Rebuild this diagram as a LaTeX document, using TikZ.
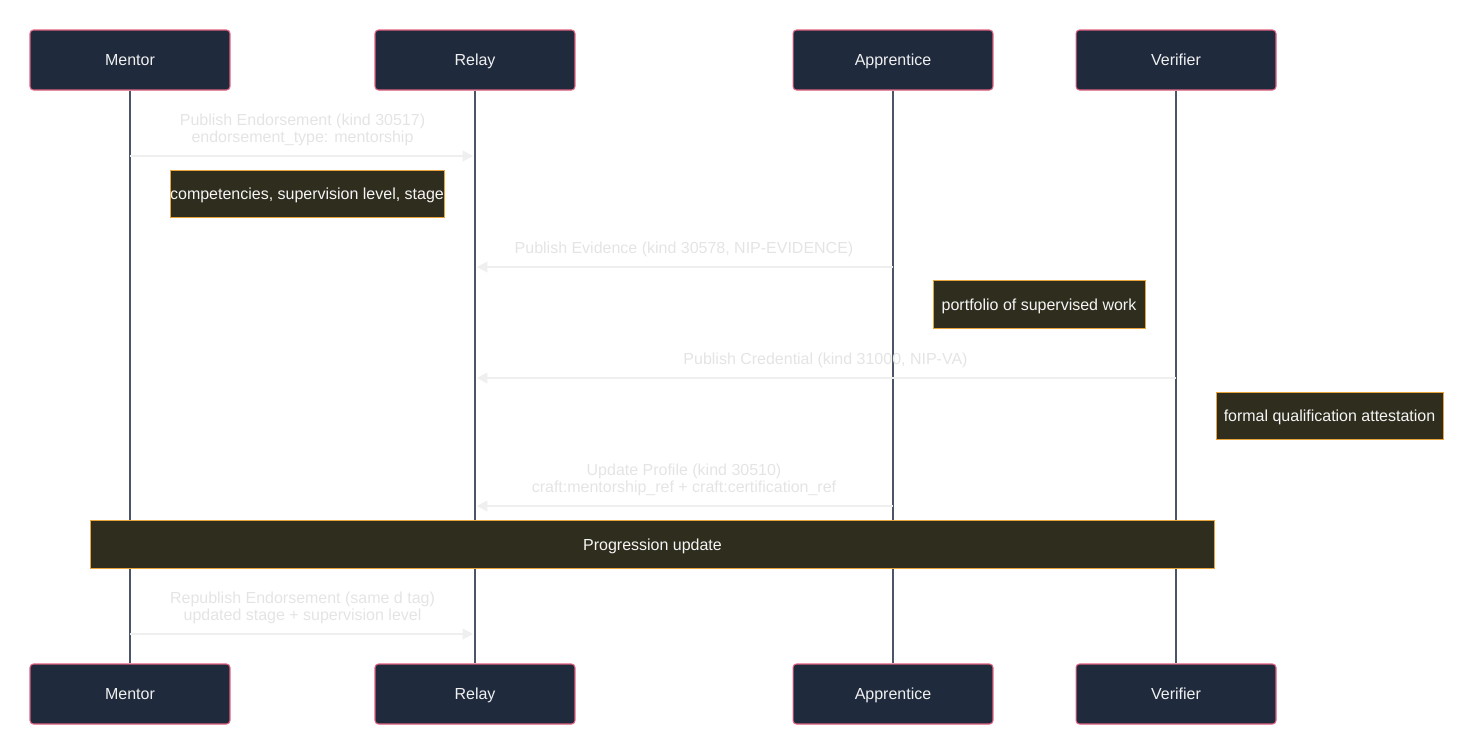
\documentclass[tikz,border=0pt]{standalone}
\usepackage{fontspec}
\setmainfont{Liberation Sans}
\usetikzlibrary{arrows.meta, positioning}

\definecolor{actorfill}{HTML}{1F2A3C}
\definecolor{actorline}{HTML}{E2607F}
\definecolor{notefill}{HTML}{2E2D1E}
\definecolor{noteline}{HTML}{E8A33B}
\definecolor{lifecol}{HTML}{4A5568}
\definecolor{msgline}{HTML}{EFEFEF}
\definecolor{msgtext}{HTML}{E4E4E4}

\tikzset{
	actor/.style={draw=actorline, fill=actorfill, rounded corners=2pt, line width=0.6pt,
		minimum width=4cm, minimum height=1.2cm, text=white!94!black,
		text height=6.6pt, text depth=0pt, font=\fontsize{9.1}{11}\selectfont},
	note/.style={draw=noteline, fill=notefill, line width=0.5pt, inner sep=0pt,
		minimum height=0.95cm, text=white!96!black, text height=6.6pt, text depth=0pt,
		font=\fontsize{9.1}{11}\selectfont},
	msg/.style={draw=msgline, line width=1.1pt, shorten >=1pt,
		-{Triangle[length=6pt,width=6pt]}},
	msglabel/.style={text=msgtext, align=center, inner sep=0pt,
		font=\fontsize{9.1}{9.7}\selectfont},
	life/.style={draw=lifecol, line width=0.7pt}
}

\begin{document}
\begin{tikzpicture}[x=0.02cm, y=-0.02cm]
				\useasboundingbox (0,0) rectangle (1473,755);
				
				%% Participantes
				\node [actor] (mentorTop) at (130,60) {Mentor};
				\node [actor] (relayTop) at (475,60) {Relay};
				\node [actor] (apprTop) at (893,60) {Apprentice};
				\node [actor] (verifTop) at (1176,60) {Verifier};
				
				\node [actor] (mentorBot) at (130,694) {Mentor};
				\node [actor] (relayBot) at (475,694) {Relay};
				\node [actor] (apprBot) at (893,694) {Apprentice};
				\node [actor] (verifBot) at (1176,694) {Verifier};
				
				%% Linhas de vida
				\draw [life] (mentorTop) -- (mentorBot);
				\draw [life] (relayTop) -- (relayBot);
				\draw [life] (apprTop) -- (apprBot);
				\draw [life] (verifTop) -- (verifBot);
				
				%% Pontos das mensagens
				\coordinate (endorseA) at (130,156);
				\coordinate (endorseB) at (475,156);
				\coordinate (evidA) at (893,267);
				\coordinate (evidB) at (475,267);
				\coordinate (credA) at (1176,378);
				\coordinate (credB) at (475,378);
				\coordinate (profA) at (893,506);
				\coordinate (profB) at (475,506);
				\coordinate (repubA) at (130,634);
				\coordinate (repubB) at (475,634);
				
				%% Mensagens
				\draw [msg] (endorseA) -- (endorseB)
				node [midway, above=0.18cm, msglabel] {Publish Endorsement (kind 30517)\\endorsement\_type: mentorship};
				
				\node [note, minimum width=5.48cm] (noteComp) at (307,194) {competencies, supervision level, stage};
				
				\draw [msg] (evidA) -- (evidB)
				node [midway, above=0.18cm, msglabel] {Publish Evidence (kind 30578, NIP-EVIDENCE)};
				
				\node [note, minimum width=4.24cm] (notePort) at (1039,304.5) {portfolio of supervised work};
				
				\draw [msg] (credA) -- (credB)
				node [midway, above=0.18cm, msglabel] {Publish Credential (kind 31000, NIP-VA)};
				
				\node [note, minimum width=4.54cm] (noteQual) at (1329.5,416) {formal qualification attestation};
				
				\draw [msg] (profA) -- (profB)
				node [midway, above=0.18cm, msglabel] {Update Profile (kind 30510)\\craft:mentorship\_ref + craft:certification\_ref};
				
				\node [note, minimum width=22.5cm] (noteProg) at (652.5,544.5) {Progression update};
				
				\draw [msg] (repubA) -- (repubB)
				node [midway, above=0.18cm, msglabel] {Republish Endorsement (same d tag)\\updated stage + supervision level};
			\end{tikzpicture}
\end{document}
